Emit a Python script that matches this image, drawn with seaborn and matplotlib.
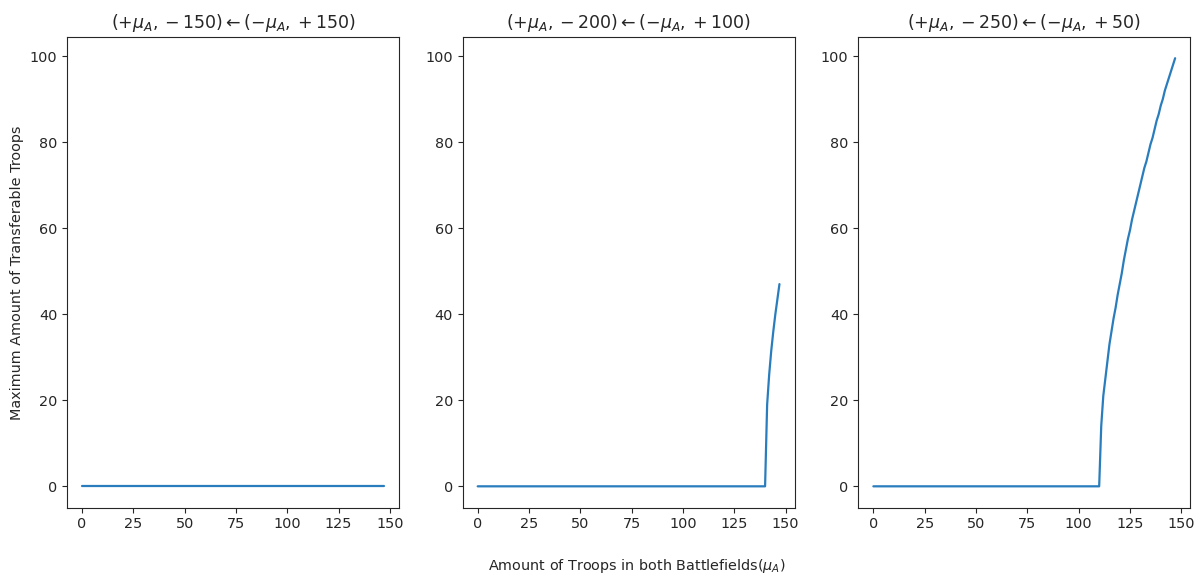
#!/usr/bin/env python3
# -*- coding: utf-8 -*-
"""
Maximum transferable troops vs. troops in both battlefields (three transfer cases)
"""

import numpy as np
import pandas as pd
import matplotlib
matplotlib.use("Agg")
import matplotlib.pyplot as plt
import seaborn as sns

# x axis: amount of troops mu_A
troops = list(range(148))

# case 1: nothing can be transferred
transfer_150 = [0] * 148

# case 2: flat until 140, then a steep rise
transfer_100 = [0] * 140 + [0, 19, 26, 31.5, 36, 40, 43.5, 47]

# case 3: flat until 110, then a curved rise
transfer_50 = [0] * 110 + [
    0, 14, 21, 25, 29, 33, 36, 39, 41.5, 44.5,
    47, 49.5, 52.5, 55, 57.5, 59.5, 62, 64, 66, 68,
    70, 72, 74, 75.5, 77.5, 79.5, 81, 83, 85, 86.5,
    88.5, 90, 92, 93.5, 95, 96.5, 98, 99.5,
]

titles = [
    r'$(+\mu_A,-150)\leftarrow(-\mu_A,+150)$',
    r'$(+\mu_A,-200)\leftarrow(-\mu_A,+100)$',
    r'$(+\mu_A,-250)\leftarrow(-\mu_A,+50)$',
]

sns.set_style("ticks")
plt.rcParams['font.family'] = ['DejaVu Sans']
plt.rcParams['mathtext.fontset'] = 'dejavusans'

fig, axes = plt.subplots(1, 3, figsize=(11.95, 5.75), dpi=100, sharey=True)
fig.subplots_adjust(left=0.056, right=0.996, top=0.936, bottom=0.117, wspace=0.192)

for ax, values, title in zip(axes, [transfer_150, transfer_100, transfer_50], titles):
    df = pd.DataFrame({'troops': troops, 'transfer': values})
    sns.lineplot(data=df, x='troops', y='transfer', ax=ax, color='#2a7dbd', linewidth=1.6)
    ax.set_title(title, fontsize=12.5)
    ax.set_xlabel('')
    ax.set_ylabel('')
    ax.set_xticks([0, 25, 50, 75, 100, 125, 150])
    ax.tick_params(labelleft=True, labelsize=10.4)
    for s in ax.spines.values():
        s.set_visible(True)

axes[0].set_ylabel('Maximum Amount of Transferable Troops', fontsize=10.4)
fig.text(0.533, 0.016, r'Amount of Troops in both Battlefields($\mu_A$)',
         ha='center', va='center', fontsize=10.4)

plt.savefig('out.png', dpi=100)
plt.close()
